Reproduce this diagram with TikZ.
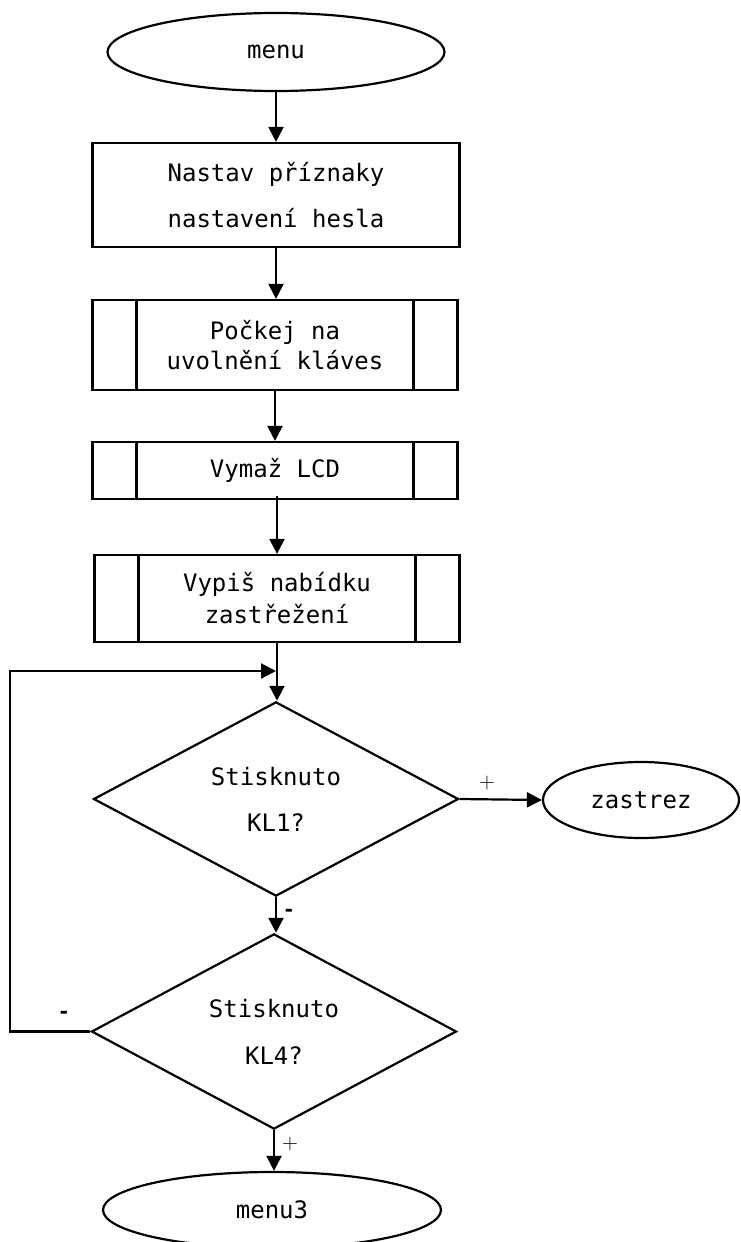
\documentclass[tikz,border=0pt]{standalone}
\usepackage{fontspec}
\newfontfamily\flowfont{DejaVu Sans Mono}
\usetikzlibrary{shapes.geometric,arrows.meta}
\tikzset{
  every node/.style={font=\flowfont\fontsize{24}{29}\selectfont},
  base/.style={draw, line width=2.2pt, inner sep=0pt, align=center},
  terminal/.style={base, ellipse},
  procbox/.style={base, rectangle},
  subproc/.style={base, rectangle,
    path picture={
      \draw[line width=2.2pt]
        ([xshift=44pt]path picture bounding box.north west) --
        ([xshift=44pt]path picture bounding box.south west)
        ([xshift=-44pt]path picture bounding box.north east) --
        ([xshift=-44pt]path picture bounding box.south east);
    }},
  decision/.style={base, diamond},
  arr/.style={line width=2.2pt, -{Triangle[length=15pt,width=15pt]}},
  plusmark/.style={font=\rmfamily\fontsize{22}{22}\selectfont, inner sep=0pt},
  minusmark/.style={font=\flowfont\bfseries\fontsize{20}{20}\selectfont, inner sep=0pt},
}
\begin{document}
\begin{tikzpicture}[x=1pt, y=-1pt]
  \useasboundingbox (0,0) rectangle (740,1242);

  % main column
  \node[terminal, minimum width=337pt, minimum height=78pt] (menu) at (276,52) {menu};
  \node[procbox, minimum width=367pt, minimum height=104pt,
        font=\flowfont\fontsize{24}{46}\selectfont] (flags) at (276,195)
        {Nastav příznaky\\nastavení hesla};
  \node[subproc, minimum width=365pt, minimum height=90pt,
        font=\flowfont\fontsize{24}{30}\selectfont] (wait) at (275,345)
        {Počkej na\\uvolnění kláves};
  \node[subproc, minimum width=365pt, minimum height=57pt] (clr) at (275,470.5) {Vymaž LCD};
  \node[subproc, minimum width=365pt, minimum height=87pt,
        font=\flowfont\fontsize{24}{32}\selectfont] (offer) at (277,598.5)
        {Vypiš nabídku\\zastřežení};
  \node[decision, minimum width=365pt, minimum height=183pt,
        font=\flowfont\fontsize{24}{46}\selectfont] (kl1) at (276,799)
        {Stisknuto\\KL1?};
  \node[terminal, minimum width=196pt, minimum height=76pt] (zastrez) at (641,800) {zastrez};
  \node[decision, minimum width=365pt, minimum height=184pt,
        font=\flowfont\fontsize{24}{47}\selectfont] (kl4) at (274,1031.5)
        {Stisknuto\\KL4?};
  \node[terminal, minimum width=338pt, minimum height=76pt] (menu3) at (272,1210) {menu3};

  % loop-back corner and junction on the column
  \coordinate (lp) at (10,671);
  \coordinate (join) at (276,671);

  % connectors
  \draw[arr] (menu.south) -- (menu.south |- flags.north);
  \draw[arr] (flags.south) -- (flags.south |- wait.north);
  \draw[arr] (wait.south) -- (wait.south |- clr.north);
  \draw[arr] ([yshift=4pt]clr.south -| offer.south) -- (offer.north);
  \draw[arr] (offer.south) -- (offer.south |- kl1.north);
  \draw[arr] (kl1.east) -- (zastrez.west);
  \draw[arr] (kl1.south) -- (kl1.south |- kl4.north);
  \draw[arr] (kl4.south) -- (kl4.south |- menu3.north);
  \draw[arr] (kl4.west) -| (lp) -- (join);

  % branch labels
  \node[plusmark] (yes1) at (487,783) {+};
  \node[minusmark] (no1) at (289,913) {-};
  \node[minusmark] (no4) at (64,1015) {-};
  \node[plusmark] (yes4) at (290,1144) {+};
\end{tikzpicture}
\end{document}
